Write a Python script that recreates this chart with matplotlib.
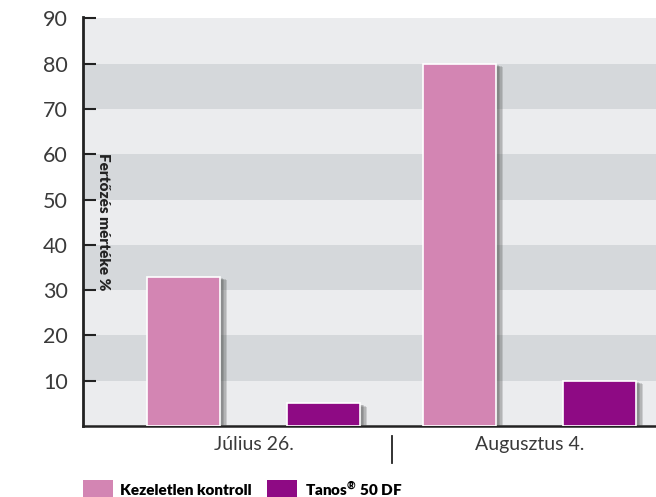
import matplotlib.pyplot as plt
import matplotlib.patheffects as pe
from matplotlib.patches import Patch
import numpy as np

# data
groups = ["Július 26.", "Augusztus 4."]
series = ["Kezeletlen kontroll", "Tanos$^{\\mathregular{®}}$ 50 DF"]
kontroll = [33, 80]
tanos = [5, 10]
yticks = [10, 20, 30, 40, 50, 60, 70, 80, 90]

colors = ["#D385B3", "#8E0A84"]
band_light = "#EBECEE"
band_dark = "#D5D8DB"
txt = "#3a3a3a"

plt.rcParams['font.family'] = ['Lato', 'DejaVu Sans']

fig = plt.figure(figsize=(6.56, 4.97), dpi=100)
ax = fig.add_axes([83 / 656, 71 / 497, 573 / 656, 409 / 497])

# striped background
for i in range(9):
    ax.axhspan(i * 10, (i + 1) * 10, color=band_light if i % 2 == 0 else band_dark,
               lw=0, zorder=0)

x = np.arange(len(groups))
off = 0.2536
w = 0.264
# soft drop shadow, built from a few stacked offsets
shadow = [pe.SimplePatchShadow(offset=(k, -k * 0.5), shadow_rgbFace="#444444", alpha=0.18)
          for k in (5, 4, 3, 2)] + [pe.Normal()]
for vals, c, d in zip([kontroll, tanos], colors, [-off, off]):
    bars = ax.bar(x + d, vals, width=w, color=c, edgecolor="white", linewidth=1.2,
                  zorder=3)
    for b in bars:
        b.set_path_effects(shadow)

ax.set_xlim(-0.618, 1.458)
ax.set_ylim(0, 90.3)

ax.set_yticks(yticks)
ax.set_yticklabels([str(v) for v in yticks], fontsize=15.5, color=txt)
ax.tick_params(axis='y', direction='in', length=9, width=1.5, color="#222222", pad=11)
ax.set_xticks(x)
ax.set_xticklabels(groups, fontsize=14, color=txt)
ax.tick_params(axis='x', length=0, pad=7)

for s in ['top', 'right']:
    ax.spines[s].set_visible(False)
ax.spines['left'].set_linewidth(2)
ax.spines['left'].set_color("#222222")
ax.spines['bottom'].set_linewidth(1.8)
ax.spines['bottom'].set_color("#222222")

# group separator below the axis
ax.plot([0.5, 0.5], [-0.025, -0.09], transform=ax.get_xaxis_transform(),
        color="#222222", lw=1.3, clip_on=False)

ax.text(0.035, 0.499, "Fertőzés mértéke %", transform=ax.transAxes, rotation=-90,
        ha='center', va='center', fontsize=11, fontweight='heavy', color="#222222",
        zorder=5)

handles = [Patch(facecolor=c, edgecolor='none', label=s) for c, s in zip(colors, series)]
fig.legend(handles=handles, loc='upper left', bbox_to_anchor=(83 / 656, 1 - 479 / 497),
           ncol=2, frameon=False, handlelength=1.95, handleheight=1.8,
           handletextpad=0.5, columnspacing=1.0, borderpad=0, borderaxespad=0,
           prop={'weight': 'heavy', 'size': 11})

fig.savefig("out.png", dpi=100)
